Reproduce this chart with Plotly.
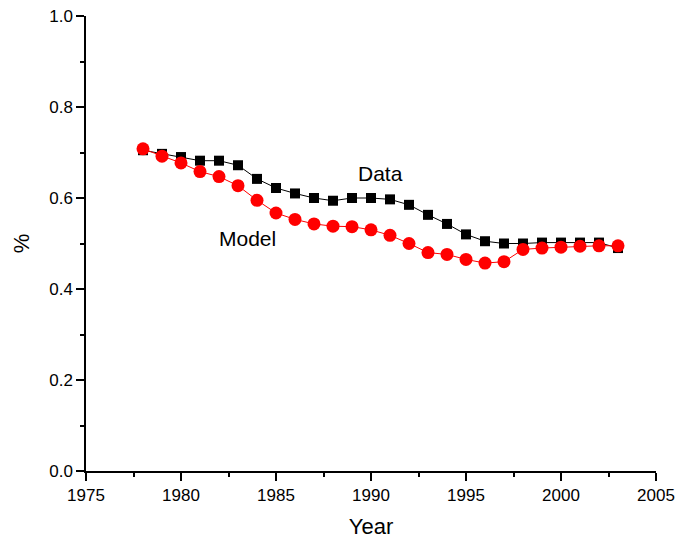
import plotly.graph_objects as go

years = list(range(1978, 2004))
data_vals = [0.705, 0.697, 0.690, 0.682, 0.682, 0.672, 0.642, 0.622, 0.610, 0.600,
             0.594, 0.600, 0.600, 0.597, 0.585, 0.563, 0.543, 0.520, 0.505, 0.500,
             0.500, 0.502, 0.502, 0.502, 0.502, 0.490]
model_vals = [0.708, 0.692, 0.677, 0.658, 0.647, 0.627, 0.595, 0.567, 0.553, 0.543,
              0.538, 0.537, 0.530, 0.518, 0.500, 0.480, 0.476, 0.465, 0.457, 0.460,
              0.487, 0.490, 0.492, 0.494, 0.495, 0.495]
x_ticks = [1975, 1980, 1985, 1990, 1995, 2000, 2005]
y_ticks = [0.0, 0.2, 0.4, 0.6, 0.8, 1.0]

FONT = "Liberation Sans, Arial, sans-serif"

fig = go.Figure()
fig.add_trace(go.Scatter(x=years, y=data_vals, mode="lines+markers", name="Data",
                         line=dict(color="black", width=1),
                         marker=dict(symbol="square", size=10, color="black")))
fig.add_trace(go.Scatter(x=years, y=model_vals, mode="lines+markers", name="Model",
                         line=dict(color="red", width=1),
                         marker=dict(symbol="circle", size=13, color="red")))

fig.add_annotation(x=1990.5, y=0.653, text="Data", showarrow=False,
                   font=dict(size=21, color="black", family=FONT))
fig.add_annotation(x=1983.5, y=0.512, text="Model", showarrow=False,
                   font=dict(size=21, color="black", family=FONT))

axis_common = dict(showgrid=False, zeroline=False, showline=True, linecolor="black",
                   linewidth=1.5, ticks="outside", ticklen=8, tickwidth=1.5,
                   tickcolor="black", tickfont=dict(size=17, color="black", family=FONT),
                   mirror=False, automargin=False)
fig.update_xaxes(range=[1975, 2005], tickvals=x_ticks,
                 minor=dict(dtick=2.5, tick0=1975, ticks="outside", ticklen=4,
                            tickwidth=1.5, tickcolor="black"),
                 title=dict(text="Year", font=dict(size=22, color="black", family=FONT),
                            standoff=14),
                 **axis_common)
fig.update_yaxes(range=[0, 1.0], tickvals=y_ticks, tickformat=".1f",
                 minor=dict(dtick=0.1, tick0=0, ticks="outside", ticklen=4,
                            tickwidth=1.5, tickcolor="black"),
                 title=dict(text="%", font=dict(size=22, color="black", family=FONT),
                            standoff=14),
                 **axis_common)

fig.update_layout(width=675, height=541, showlegend=False,
                  plot_bgcolor="white", paper_bgcolor="white",
                  font=dict(family=FONT, color="black"),
                  margin=dict(l=86, r=19, t=16, b=70))
fig.write_html("out.html")
